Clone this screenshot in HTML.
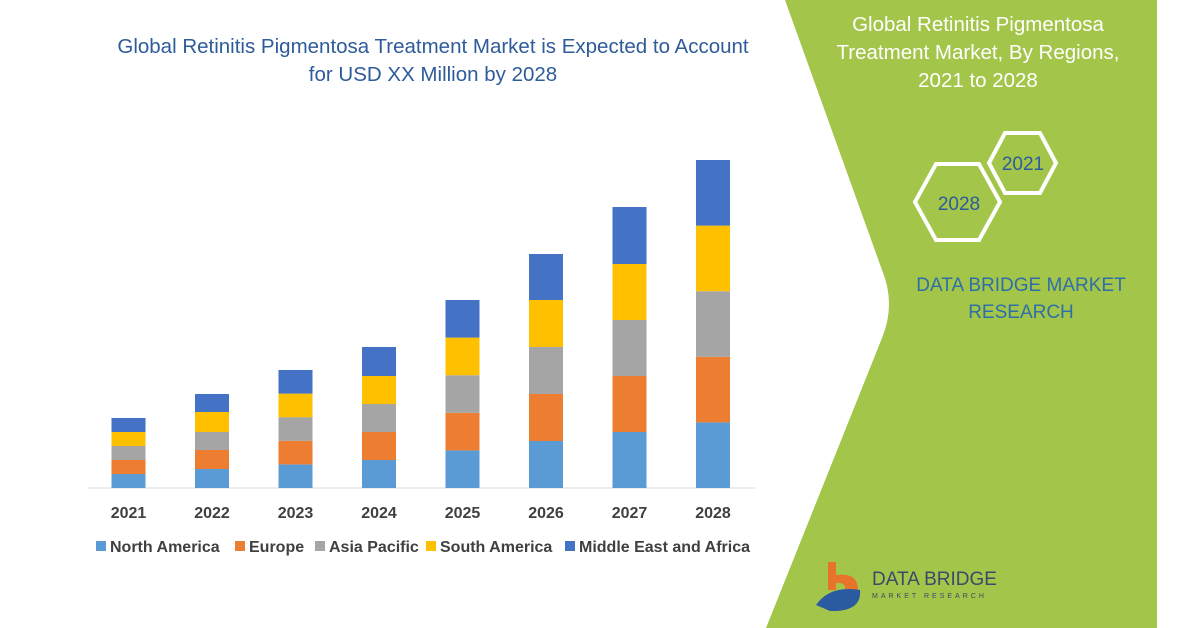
<!DOCTYPE html>
<html><head><meta charset="utf-8">
<style>
body{margin:0;width:1200px;height:628px;overflow:hidden;background:#fff;font-family:"Liberation Sans",sans-serif;}
svg{display:block}
</style></head>
<body>
<svg width="1200" height="628" viewBox="0 0 1200 628">
  <path d="M785,0 L1157,0 L1157,628 L766,628 L882,338 Q896,304 882,270 Z" fill="#a3c54a"/>
  <text x="433" y="53" text-anchor="middle" font-size="20.5" fill="#2e5b9a">Global Retinitis Pigmentosa Treatment Market is Expected to Account</text>
  <text x="433" y="81" text-anchor="middle" font-size="20.5" fill="#2e5b9a">for USD XX Million by 2028</text>
  <g fill="#fff" font-size="20.5" text-anchor="middle">
    <text x="978" y="31">Global Retinitis Pigmentosa</text>
    <text x="978" y="59">Treatment Market, By Regions,</text>
    <text x="978" y="87">2021 to 2028</text>
  </g>
  <polygon points="1005,133 1040,133 1056,163 1040,193 1005,193 989,163" fill="none" stroke="#fff" stroke-width="4"/>
  <text x="1023" y="170" text-anchor="middle" font-size="19" fill="#2e5b9a">2021</text>
  <polygon points="936,164 979,164 1000,202 979,240 936,240 915,202" fill="none" stroke="#fff" stroke-width="4"/>
  <text x="959" y="210" text-anchor="middle" font-size="19" fill="#2e5b9a">2028</text>
  <text x="1021" y="291" text-anchor="middle" font-size="19" fill="#2e6fa8">DATA BRIDGE MARKET</text>
  <text x="1021" y="318" text-anchor="middle" font-size="19" fill="#2e6fa8">RESEARCH</text>
  <g>
    <path d="M828,562 L836,562 L836,575 Q858,572 858,590 L845,590 Q846,582 836,583 L836,590 L828,590 Z" fill="#e8732a"/>
    <path d="M816,605 Q830,585 860,590 Q862,612 830,611 Z" fill="#2a5aa0"/>
    <text x="872" y="585" font-size="19" fill="#3b4a6a">DATA BRIDGE</text>
    <text x="872" y="598" font-size="7" fill="#3b4a6a" letter-spacing="3">MARKET RESEARCH</text>
  </g>
  <line x1="88" y1="488" x2="755" y2="488" stroke="#d9d9d9" stroke-width="1"/>
  <g id="bars"></g>
  <g id="xlabels"></g>
  <g font-size="16" font-weight="bold" fill="#404040">
    <rect x="96" y="541" width="10" height="10" fill="#5b9bd5"/>
    <text x="110" y="552">North America</text>
    <rect x="235" y="541" width="10" height="10" fill="#ed7d31"/>
    <text x="249" y="552">Europe</text>
    <rect x="315" y="541" width="10" height="10" fill="#a5a5a5"/>
    <text x="329" y="552">Asia Pacific</text>
    <rect x="426" y="541" width="10" height="10" fill="#ffc000"/>
    <text x="440" y="552">South America</text>
    <rect x="565" y="541" width="10" height="10" fill="#4472c4"/>
    <text x="579" y="552">Middle East and Africa</text>
  </g>
</svg>
<script>
const years = ["2021","2022","2023","2024","2025","2026","2027","2028"];
const northAmerica = [14, 19, 23.6, 28, 37.6, 47, 56, 65.6];
const europe = [14, 19, 23.6, 28, 37.6, 47, 56, 65.6];
const asiaPacific = [14, 18, 23.6, 28, 37.6, 47, 56, 65.6];
const southAmerica = [14, 20, 23.6, 28, 37.6, 47, 56, 65.6];
const mea = [14, 18, 23.6, 29, 37.6, 46, 57, 65.6];
const seriesNames = ["north-america","europe","asia-pacific","south-america","mea"];
const colors = ["#5b9bd5","#ed7d31","#a5a5a5","#ffc000","#4472c4"];
const NS = "http://www.w3.org/2000/svg";
const base = 488, x0 = 128.5, step = 83.5, bw = 34;
const yScale = v => v * 1.0;
const xScale = i => x0 + i * step;
const series = [northAmerica, europe, asiaPacific, southAmerica, mea];
const g = document.getElementById("bars");
const xl = document.getElementById("xlabels");
years.forEach((yr, i) => {
  let y = base;
  series.forEach((s, k) => {
    const h = yScale(s[i]);
    y -= h;
    const r = document.createElementNS(NS, "rect");
    r.setAttribute("x", xScale(i) - bw / 2);
    r.setAttribute("y", y);
    r.setAttribute("width", bw);
    r.setAttribute("height", h);
    r.setAttribute("fill", colors[k]);
    
    
    g.appendChild(r);
  });
  const t = document.createElementNS(NS, "text");
  t.setAttribute("x", xScale(i));
  t.setAttribute("y", 518);
  t.setAttribute("text-anchor", "middle");
  t.setAttribute("font-size", "16");
  t.setAttribute("font-weight", "bold");
  t.setAttribute("fill", "#404040");
  t.textContent = yr;
  
  
  xl.appendChild(t);
});
</script>
</body></html>
